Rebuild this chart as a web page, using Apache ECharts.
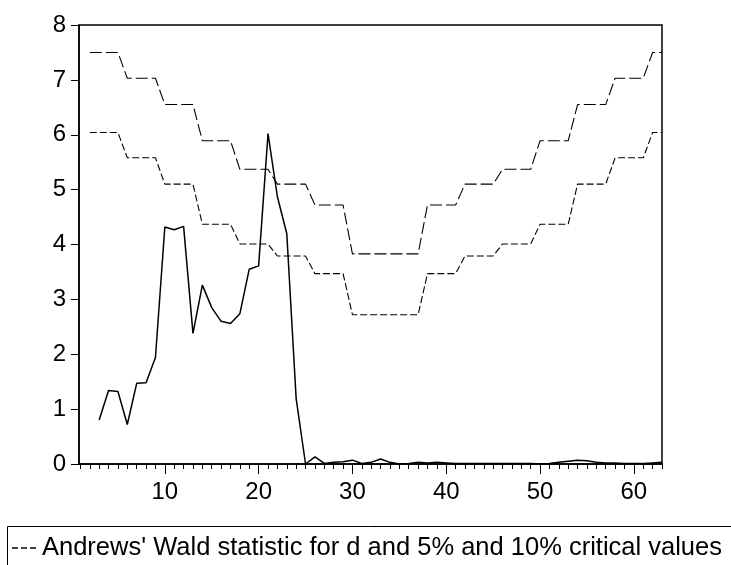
<!DOCTYPE html>
<html>
<head>
<meta charset="utf-8">
<script src="https://cdn.jsdelivr.net/npm/echarts@6/dist/echarts.min.js"></script>
<style>
html,body{margin:0;padding:0;background:#fff;}
#chart{width:731px;height:565px;}
</style>
</head>
<body>
<div id="chart"></div>
<script>
// Observation index (x)
var obs = [2,3,4,5,6,7,8,9,10,11,12,13,14,15,16,17,18,19,20,21,22,23,24,25,26,27,28,29,30,31,32,33,34,35,36,37,38,39,40,41,42,43,44,45,46,47,48,49,50,51,52,53,54,55,56,57,58,59,60,61,62,63];
// Andrews' Wald statistic (null at obs 2)
var wald = [null,0.80,1.34,1.32,0.72,1.47,1.48,1.94,4.32,4.27,4.33,2.38,3.26,2.85,2.60,2.56,2.74,3.55,3.61,6.02,4.87,4.20,1.19,0.00,0.13,0.01,0.03,0.04,0.07,0.01,0.03,0.09,0.03,0.00,0.01,0.03,0.02,0.03,0.02,0.01,0.01,0.01,0.01,0.01,0.01,0.01,0.01,0.01,0.00,0.01,0.03,0.05,0.07,0.06,0.03,0.02,0.02,0.01,0.01,0.01,0.02,0.03];
// 5% critical values
var crit5 = [7.50,7.50,7.50,7.50,7.03,7.03,7.03,7.03,6.55,6.55,6.55,6.55,5.89,5.89,5.89,5.89,5.37,5.37,5.37,5.37,5.10,5.10,5.10,5.10,4.72,4.72,4.72,4.72,3.83,3.83,3.83,3.83,3.83,3.83,3.83,3.83,4.72,4.72,4.72,4.72,5.10,5.10,5.10,5.10,5.37,5.37,5.37,5.37,5.89,5.89,5.89,5.89,6.55,6.55,6.55,6.55,7.03,7.03,7.03,7.03,7.50,7.50];
// 10% critical values
var crit10 = [6.04,6.04,6.04,6.04,5.58,5.58,5.58,5.58,5.10,5.10,5.10,5.10,4.37,4.37,4.37,4.37,4.01,4.01,4.01,4.01,3.79,3.79,3.79,3.79,3.47,3.47,3.47,3.47,2.72,2.72,2.72,2.72,2.72,2.72,2.72,2.72,3.47,3.47,3.47,3.47,3.79,3.79,3.79,3.79,4.01,4.01,4.01,4.01,4.37,4.37,4.37,4.37,5.10,5.10,5.10,5.10,5.58,5.58,5.58,5.58,6.04,6.04];
// Tick values
var minorTicks = [1,2,3,4,5,6,7,8,9,10,11,12,13,14,15,16,17,18,19,20,21,22,23,24,25,26,27,28,29,30,31,32,33,34,35,36,37,38,39,40,41,42,43,44,45,46,47,48,49,50,51,52,53,54,55,56,57,58,59,60,61,62,63];
var majorTicks = [10,20,30,40,50,60];
var legendText = "Andrews' Wald statistic for d and 5% and 10% critical values";

function pairs(ys){ return obs.map(function(x,i){ return [x, ys[i]]; }); }

var FONT = '"Liberation Sans", Arial, sans-serif';
var chart = echarts.init(document.getElementById('chart'), null, {renderer:'canvas'});
chart.setOption({
  animation: false,
  backgroundColor: '#fff',
  grid: {left: 79, top: 25, right: 69, bottom: 101, show: true, borderColor: '#000', borderWidth: 1.5, backgroundColor: 'transparent', containLabel: false},
  xAxis: [
    {type: 'value', min: 0.85, max: 63, position: 'bottom',
     axisLine: {show: true, onZero: false, lineStyle: {color: '#000', width: 1.5}},
     axisTick: {show: true, inside: false, length: 5, customValues: minorTicks, lineStyle: {color: '#000', width: 1}},
     axisLabel: {show: false}, splitLine: {show: false}},
    {type: 'value', min: 0.85, max: 63, position: 'bottom',
     axisLine: {show: false, onZero: false},
     axisTick: {show: true, inside: false, length: 10, customValues: majorTicks, lineStyle: {color: '#000', width: 1}},
     axisLabel: {show: true, customValues: majorTicks, margin: 16, color: '#000', fontSize: 24, fontFamily: FONT},
     splitLine: {show: false}}
  ],
  yAxis: {type: 'value', min: 0, max: 8, interval: 1,
    axisLine: {show: true, lineStyle: {color: '#000', width: 1.5}},
    axisTick: {show: true, inside: false, length: 8, lineStyle: {color: '#000', width: 1}},
    axisLabel: {show: true, margin: 13, color: '#000', fontSize: 24, fontFamily: FONT},
    splitLine: {show: false}},
  series: [
    {type: 'line', name: 'crit5', data: pairs(crit5), showSymbol: false, symbol: 'none',
     lineStyle: {color: '#000', width: 1.1, type: [12, 4]}, z: 2},
    {type: 'line', name: 'crit10', data: pairs(crit10), showSymbol: false, symbol: 'none',
     lineStyle: {color: '#000', width: 1.1, type: [7, 3]}, z: 2},
    {type: 'line', name: 'wald', data: pairs(wald), showSymbol: false, symbol: 'none', connectNulls: false,
     lineStyle: {color: '#000', width: 1.5}, z: 3}
  ],
  graphic: [
    {type: 'rect', shape: {x: 7.5, y: 526.5, width: 740, height: 80}, style: {fill: 'none', stroke: '#000', lineWidth: 1}},
    {type: 'line', shape: {x1: 12, y1: 548, x2: 37, y2: 548}, style: {stroke: '#000', lineWidth: 1.3, lineDash: [6, 3]}},
    {type: 'text', x: 42, y: 548, style: {text: legendText, fill: '#000', fontSize: 25.5, fontFamily: FONT, verticalAlign: 'middle', align: 'left'}}
  ]
});
</script>
</body>
</html>
